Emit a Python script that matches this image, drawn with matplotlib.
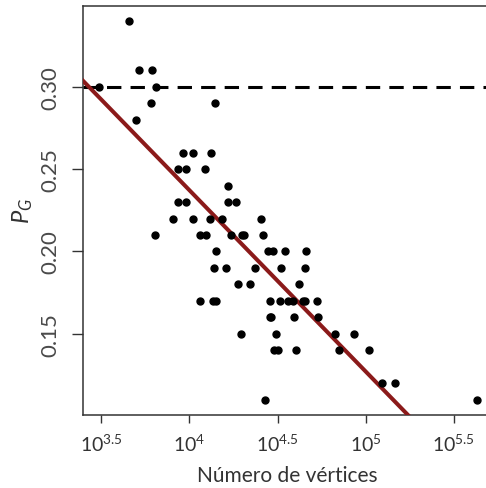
import numpy as np
import matplotlib
matplotlib.use("Agg")
import matplotlib.pyplot as plt

# -------------------------
# DATA (log10 of number of vertices, P_G)
# -------------------------
log_vertices = [
    3.659,
    3.714, 3.789,
    3.487, 3.809,
    3.780, 4.145,
    3.695,
    3.962, 4.019, 4.121,
    3.937, 3.981, 4.087,
    4.219,
    3.937, 3.981, 4.219, 4.264,
    3.907, 4.018, 4.119, 4.182, 4.406,
    3.806, 4.060, 4.093, 4.236, 4.297, 4.312, 4.419,
    4.148, 4.446, 4.472, 4.544, 4.663,
    4.140, 4.209, 4.369, 4.520, 4.658,
    4.273, 4.344, 4.624,
    4.060, 4.136, 4.151, 4.459, 4.512, 4.558, 4.586, 4.646, 4.658, 4.722,
    4.456, 4.465, 4.595, 4.730,
    4.293, 4.491, 4.825, 4.936,
    4.482, 4.501, 4.603, 4.849, 5.018,
    5.093, 5.165,
    4.429, 5.631,
]
p_g = [
    0.34,
    0.31, 0.31,
    0.30, 0.30,
    0.29, 0.29,
    0.28,
    0.26, 0.26, 0.26,
    0.25, 0.25, 0.25,
    0.24,
    0.23, 0.23, 0.23, 0.23,
    0.22, 0.22, 0.22, 0.22, 0.22,
    0.21, 0.21, 0.21, 0.21, 0.21, 0.21, 0.21,
    0.20, 0.20, 0.20, 0.20, 0.20,
    0.19, 0.19, 0.19, 0.19, 0.19,
    0.18, 0.18, 0.18,
    0.17, 0.17, 0.17, 0.17, 0.17, 0.17, 0.17, 0.17, 0.17, 0.17,
    0.16, 0.16, 0.16, 0.16,
    0.15, 0.15, 0.15, 0.15,
    0.14, 0.14, 0.14, 0.14, 0.14,
    0.12, 0.12,
    0.11, 0.11,
]

# fitted line P_G = a + b * log10(n)
fit_intercept = 0.678
fit_slope = -0.1102
reference_level = 0.30

xtick_exponents = [3.5, 4, 4.5, 5, 5.5]
xtick_labels = [r"$10^{3.5}$", r"$10^{4}$", r"$10^{4.5}$", r"$10^{5}$", r"$10^{5.5}$"]
ytick_values = [0.15, 0.20, 0.25, 0.30]
ytick_labels = ["0.15", "0.20", "0.25", "0.30"]

# -------------------------
# STYLE
# -------------------------
plt.rcParams["font.family"] = ["Lato", "DejaVu Sans"]
plt.rcParams["mathtext.fontset"] = "custom"
plt.rcParams["mathtext.rm"] = "Lato"
plt.rcParams["mathtext.it"] = "Lato:italic"

fig = plt.figure(figsize=(4.86, 4.89), dpi=100)
# right edge of the box falls outside the canvas, as in the original
ax = fig.add_axes([83 / 486, (489 - 415.7) / 489, (492 - 83) / 486, (415.7 - 7) / 489])

n_vertices = 10 ** np.array(log_vertices)
ax.set_xscale("log")
ax.set_xlim(10 ** 3.396, 10 ** 5.716)
ax.set_ylim(0.1008, 0.3492)

# reference line and regression line
ax.axhline(reference_level, color="black", lw=2.2, dashes=(4.7, 3), zorder=2)
xs = np.logspace(3.3, 5.8, 50)
ax.plot(xs, fit_intercept + fit_slope * np.log10(xs), color="#8B1A1A", lw=2.9, zorder=3)

ax.plot(n_vertices, p_g, "o", color="black", ms=5, zorder=4)

ax.set_xticks(10 ** np.array(xtick_exponents))
ax.set_xticklabels(xtick_labels)
ax.minorticks_off()
ax.set_yticks(ytick_values)
ax.set_yticklabels(ytick_labels, rotation=90, va="center")

ax.tick_params(axis="x", length=6, width=1, color="#333333", labelsize=14,
               labelcolor="#333333", pad=7)
ax.tick_params(axis="y", length=8, width=1, color="#333333", labelsize=16,
               labelcolor="#4a4a4a", pad=8)

for side in ["left", "bottom", "top", "right"]:
    ax.spines[side].set_color("#333333")
    ax.spines[side].set_linewidth(1.1)

ax.set_xlabel("Número de vértices", fontsize=15, color="#333333", labelpad=8)
ax.set_ylabel(r"$P_G$", fontsize=17, color="#333333", labelpad=4)

fig.savefig("out.png", dpi=100)
